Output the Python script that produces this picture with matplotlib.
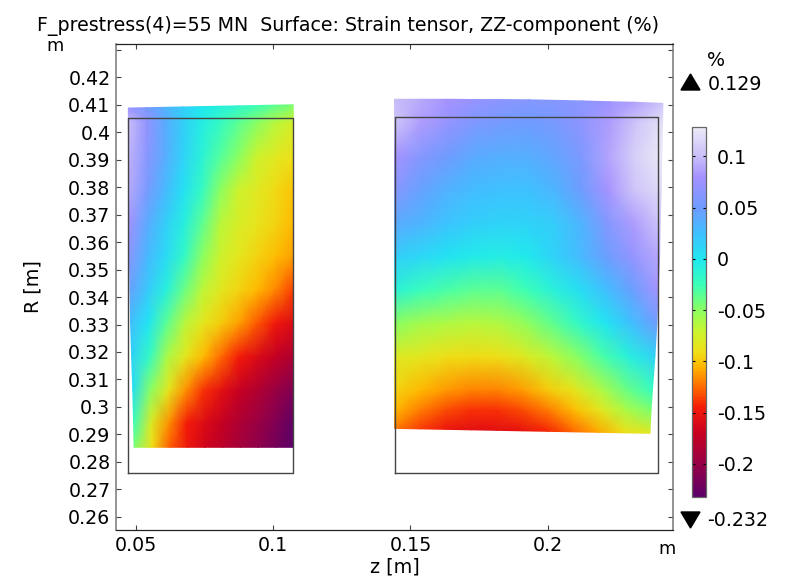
import numpy as np
import matplotlib
matplotlib.use("Agg")
import matplotlib.pyplot as plt
from matplotlib.colors import LinearSegmentedColormap, Normalize
from matplotlib.cm import ScalarMappable
from matplotlib.patches import Polygon

# left domain, deformed shape (rows top to bottom, columns left to right)
r1_left = [0.4088, 0.4033, 0.3911, 0.3790, 0.3668, 0.3547, 0.3426, 0.3304, 0.3183, 0.3061, 0.2940, 0.2853]
r1_right = [0.4100, 0.4033, 0.3911, 0.3790, 0.3668, 0.3547, 0.3426, 0.3304, 0.3183, 0.3061, 0.2940, 0.2853]
z1_left = [0.0472, 0.0472, 0.0473, 0.0474, 0.0475, 0.0476, 0.0478, 0.0480, 0.0484, 0.0488, 0.0491, 0.0493]
z1_right = [0.1073] * 12
strain1 = [
    [0.075, 0.055, 0.035, 0.015, 0.000, -0.008, -0.015, -0.025, -0.035, -0.045],
    [0.100, 0.070, 0.040, 0.015, -0.005, -0.020, -0.035, -0.050, -0.065, -0.076],
    [0.095, 0.065, 0.038, 0.012, -0.012, -0.032, -0.050, -0.072, -0.082, -0.090],
    [0.090, 0.055, 0.030, 0.004, -0.020, -0.050, -0.072, -0.082, -0.092, -0.100],
    [0.078, 0.040, 0.015, -0.007, -0.035, -0.065, -0.078, -0.086, -0.095, -0.105],
    [0.063, 0.030, 0.008, -0.018, -0.050, -0.072, -0.085, -0.094, -0.103, -0.112],
    [0.045, 0.018, -0.008, -0.040, -0.067, -0.083, -0.094, -0.104, -0.117, -0.135],
    [0.025, 0.002, -0.035, -0.065, -0.085, -0.098, -0.112, -0.130, -0.148, -0.160],
    [0.012, -0.020, -0.060, -0.085, -0.105, -0.125, -0.145, -0.160, -0.172, -0.185],
    [0.005, -0.050, -0.085, -0.115, -0.140, -0.155, -0.170, -0.184, -0.198, -0.212],
    [-0.025, -0.080, -0.115, -0.145, -0.160, -0.172, -0.186, -0.198, -0.212, -0.228],
    [-0.045, -0.090, -0.128, -0.150, -0.165, -0.178, -0.192, -0.205, -0.218, -0.231],
]

# right domain, deformed shape
r2_left = [0.4120, 0.4033, 0.3911, 0.3790, 0.3668, 0.3547, 0.3426, 0.3304, 0.3183, 0.3061, 0.2989, 0.2922]
r2_right = [0.4105, 0.4033, 0.3911, 0.3790, 0.3668, 0.3547, 0.3426, 0.3304, 0.3183, 0.3061, 0.2989, 0.2904]
r2_top = [0.4120, 0.4120, 0.4120, 0.4119, 0.4119, 0.4118, 0.4116, 0.4114, 0.4111, 0.4109, 0.4105]
z2_left = [0.1442] * 12
z2_right = [0.2420, 0.2419, 0.2416, 0.2414, 0.2410, 0.2408, 0.2403, 0.2398, 0.2391, 0.2382, 0.2377, 0.2373]
strain2 = [
    [0.100, 0.090, 0.080, 0.072, 0.066, 0.062, 0.062, 0.066, 0.075, 0.088, 0.105],
    [0.105, 0.085, 0.070, 0.058, 0.052, 0.050, 0.055, 0.068, 0.085, 0.105, 0.122],
    [0.080, 0.062, 0.050, 0.040, 0.036, 0.036, 0.043, 0.058, 0.088, 0.112, 0.127],
    [0.064, 0.045, 0.034, 0.027, 0.024, 0.024, 0.032, 0.050, 0.080, 0.104, 0.118],
    [0.040, 0.033, 0.022, 0.015, 0.012, 0.012, 0.017, 0.033, 0.060, 0.085, 0.105],
    [0.016, 0.010, 0.003, -0.003, -0.005, -0.002, 0.012, 0.028, 0.048, 0.070, 0.090],
    [-0.012, -0.022, -0.030, -0.035, -0.035, -0.026, -0.010, 0.005, 0.025, 0.047, 0.080],
    [-0.050, -0.058, -0.062, -0.065, -0.062, -0.052, -0.036, -0.018, 0.002, 0.024, 0.050],
    [-0.080, -0.085, -0.090, -0.092, -0.090, -0.080, -0.066, -0.050, -0.030, -0.008, 0.012],
    [-0.095, -0.105, -0.113, -0.118, -0.118, -0.112, -0.098, -0.085, -0.062, -0.040, -0.022],
    [-0.105, -0.120, -0.132, -0.140, -0.140, -0.132, -0.120, -0.103, -0.085, -0.060, -0.045],
    [-0.120, -0.137, -0.150, -0.155, -0.155, -0.152, -0.142, -0.125, -0.108, -0.090, -0.082],
]

# undeformed outlines
box1_z = [0.0472, 0.1072, 0.1072, 0.0472, 0.0472]
box1_r = [0.2758, 0.2758, 0.4053, 0.4053, 0.2758]
box2_z = [0.1442, 0.2404, 0.2404, 0.1442, 0.1442]
box2_r = [0.2760, 0.2760, 0.4054, 0.4054, 0.2760]

x_ticks = [0.05, 0.1, 0.15, 0.2]
x_labels = ["0.05", "0.1", "0.15", "0.2"]
y_ticks = [0.26, 0.27, 0.28, 0.29, 0.3, 0.31, 0.32, 0.33, 0.34, 0.35, 0.36, 0.37, 0.38, 0.39, 0.4, 0.41, 0.42, 0.43]
y_labels = ["0.26", "0.27", "0.28", "0.29", "0.3", "0.31", "0.32", "0.33", "0.34", "0.35", "0.36", "0.37", "0.38", "0.39", "0.4", "0.41", "0.42", ""]
cbar_ticks = [0.1, 0.05, 0, -0.05, -0.1, -0.15, -0.2]
cbar_labels = ["0.1", "0.05", "0", "-0.05", "-0.1", "-0.15", "-0.2"]
strain_max = 0.129
strain_min = -0.232

cmap = LinearSegmentedColormap.from_list("prism_like", [
    (0.000, "#5c0068"), (0.090, "#980045"), (0.172, "#c80020"), (0.241, "#f51c08"),
    (0.296, "#ff6a00"), (0.352, "#ffb800"), (0.393, "#eee018"), (0.449, "#c8f530"),
    (0.504, "#8cff60"), (0.573, "#3bffb8"), (0.643, "#1fe8f0"), (0.712, "#3fc0ff"),
    (0.781, "#6f9cff"), (0.864, "#a491ff"), (0.920, "#c9bdf9"), (1.000, "#ecebf7"),
])
norm = Normalize(strain_min, strain_max)

W, H = 790, 577
fig = plt.figure(figsize=(W / 100, H / 100), dpi=100)
fs = 13.7


def fx(px):
    return px / W


def fy(py):
    return 1 - py / H


ax = fig.add_axes([fx(116), fy(530), (673.3 - 116) / W, (530 - 43.5) / H])


def grid(z_left, z_right, r_left, r_right, ncol):
    t = np.linspace(0, 1, ncol)
    Z = np.outer(z_left, 1 - t) + np.outer(z_right, t)
    R = np.outer(r_left, 1 - t) + np.outer(r_right, t)
    return Z, R


Z1, R1 = grid(z1_left, z1_right, r1_left, r1_right, len(strain1[0]))
Z2, R2 = grid(z2_left, z2_right, r2_left, r2_right, len(strain2[0]))
R2[0] = r2_top
ax.pcolormesh(Z1, R1, np.array(strain1), shading="gouraud", cmap=cmap, norm=norm)
ax.pcolormesh(Z2, R2, np.array(strain2), shading="gouraud", cmap=cmap, norm=norm)
ax.plot(box1_z, box1_r, color="#444444", lw=1.0)
ax.plot(box2_z, box2_r, color="#444444", lw=1.0)

ax.set_xlim(0.0427, 0.2458)
ax.set_ylim(0.2552, 0.4323)
ax.set_xticks(x_ticks)
ax.set_xticklabels(x_labels, fontsize=fs)
ax.set_yticks(y_ticks)
ax.set_yticklabels(y_labels, fontsize=fs)
ax.tick_params(axis="both", direction="in", length=3.8, width=0.8, color="#444444",
               top=True, right=True, pad=4)
for side in ["left", "right"]:
    ax.spines[side].set_color("#777777")
    ax.spines[side].set_linewidth(1.1)
for side in ["top", "bottom"]:
    ax.spines[side].set_color("#222222")
    ax.spines[side].set_linewidth(0.9)

fig.text(fx(37), fy(26), "F_prestress(4)=55 MN  Surface: Strain tensor, ZZ-component (%)",
         fontsize=fs, va="center", ha="left")
fig.text(fx(33), fy(287), "R [m]", fontsize=fs, rotation=90, va="center", ha="center")
fig.text(fx(395), fy(567), "z [m]", fontsize=fs, va="center", ha="center")
fig.text(fx(55), fy(46), "m", fontsize=fs - 1, va="center", ha="center")
fig.text(fx(667), fy(549), "m", fontsize=fs - 1, va="center", ha="center")

# colour bar with its max/min triangles
cax = fig.add_axes([fx(692), fy(496.7), 13.7 / W, 370 / H])
cb = fig.colorbar(ScalarMappable(norm=norm, cmap=cmap), cax=cax)
cb.set_ticks(cbar_ticks)
cb.set_ticklabels(cbar_labels, fontsize=fs)
cax.tick_params(direction="in", length=2, width=0.8, left=True, right=True, pad=8)
cb.outline.set_edgecolor("#666666")
cb.outline.set_linewidth(0.9)

fig.add_artist(Polygon([[fx(681), fy(90)], [fx(700), fy(90)], [fx(690.5), fy(74)]],
                       closed=True, color="black", transform=fig.transFigure))
fig.add_artist(Polygon([[fx(681), fy(512)], [fx(700), fy(512)], [fx(690.5), fy(528)]],
                       closed=True, color="black", transform=fig.transFigure))
fig.text(fx(716), fy(60), "%", fontsize=fs, va="center", ha="center")
fig.text(fx(707.5), fy(84.5), "0.129", fontsize=fs, va="center", ha="left")
fig.text(fx(707.5), fy(520.5), "-0.232", fontsize=fs, va="center", ha="left")

fig.savefig("out.png", dpi=100)
